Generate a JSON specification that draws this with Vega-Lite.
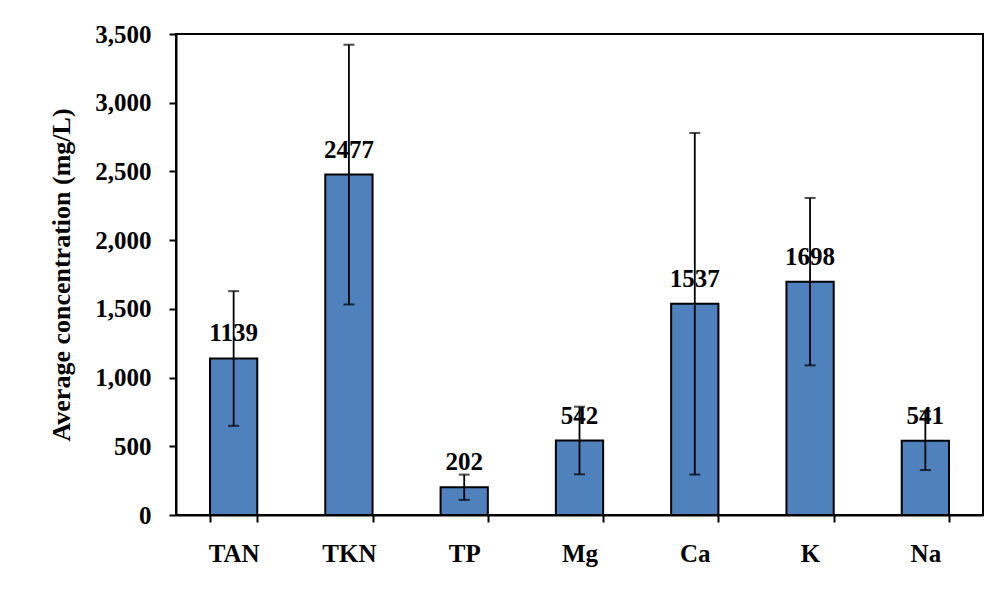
{
  "$schema": "https://vega.github.io/schema/vega-lite/v6.json",
  "width": 807,
  "height": 481,
  "autosize": {"type": "none"},
  "padding": {"left": 176, "top": 34, "right": 17, "bottom": 82},
  "background": "white",
  "config": {
    "view": {"stroke": "black", "strokeWidth": 2},
    "font": "'Liberation Serif', 'Times New Roman', serif",
    "axis": {
      "labelFont": "'Liberation Serif', 'Times New Roman', serif",
      "titleFont": "'Liberation Serif', 'Times New Roman', serif",
      "labelFontWeight": "bold",
      "titleFontWeight": "bold",
      "labelColor": "black",
      "titleColor": "black",
      "domainColor": "black",
      "tickColor": "black",
      "domainWidth": 2,
      "tickWidth": 2,
      "grid": false
    }
  },
  "data": {
    "values": [
      {"param": "TAN", "mean": 1139, "lo": 649, "hi": 1629},
      {"param": "TKN", "mean": 2477, "lo": 1532, "hi": 3422},
      {"param": "TP", "mean": 202, "lo": 110, "hi": 294},
      {"param": "Mg", "mean": 542, "lo": 296, "hi": 788},
      {"param": "Ca", "mean": 1537, "lo": 294, "hi": 2780},
      {"param": "K", "mean": 1698, "lo": 1089, "hi": 2307},
      {"param": "Na", "mean": 541, "lo": 327, "hi": 755}
    ]
  },
  "encoding": {
    "x": {
      "field": "param",
      "type": "nominal",
      "sort": null,
      "scale": {"paddingInner": 0.59, "paddingOuter": 0.295},
      "axis": {
        "title": null,
        "labelAngle": 0,
        "labelFontSize": 25,
        "labelPadding": 19,
        "tickSize": 7,
        "tickBand": "extent"
      }
    }
  },
  "layer": [
    {
      "mark": {"type": "bar", "fill": "#4F81BD", "stroke": "black", "strokeWidth": 2},
      "encoding": {
        "y": {
          "field": "mean",
          "type": "quantitative",
          "scale": {"domain": [0, 3500], "nice": false},
          "axis": {
            "title": "Average concentration (mg/L)",
            "values": [0, 500, 1000, 1500, 2000, 2500, 3000, 3500],
            "format": ",d",
            "labelFontSize": 25,
            "titleFontSize": 26,
            "tickSize": 7,
            "labelPadding": 18,
            "titlePadding": 20
          }
        }
      }
    },
    {
      "mark": {"type": "rule", "color": "black", "strokeWidth": 1.8},
      "encoding": {
        "y": {"field": "lo", "type": "quantitative"},
        "y2": {"field": "hi"}
      }
    },
    {
      "mark": {"type": "tick", "color": "black", "thickness": 2, "size": 11},
      "encoding": {"y": {"field": "lo", "type": "quantitative"}}
    },
    {
      "mark": {"type": "tick", "color": "black", "thickness": 2, "size": 11},
      "encoding": {"y": {"field": "hi", "type": "quantitative"}}
    },
    {
      "mark": {"type": "text", "font": "'Liberation Serif', 'Times New Roman', serif", "fontWeight": "bold", "fontSize": 25, "color": "black", "baseline": "alphabetic", "dy": -17},
      "encoding": {
        "y": {"field": "mean", "type": "quantitative"},
        "text": {"field": "mean", "type": "quantitative", "format": "d"}
      }
    }
  ]
}
